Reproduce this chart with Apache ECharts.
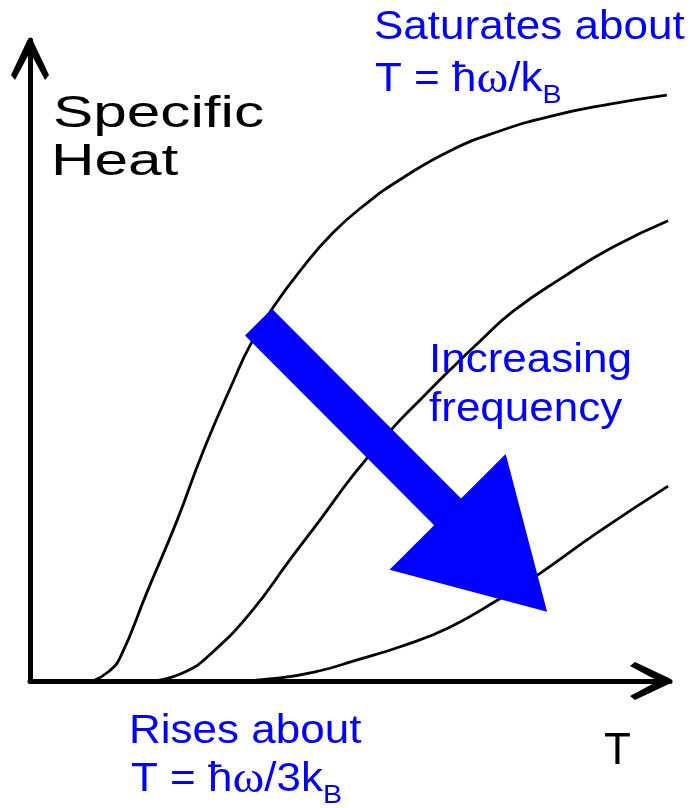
<!DOCTYPE html>
<html>
<head>
<meta charset="utf-8">
<script src="https://cdn.jsdelivr.net/npm/echarts@6/dist/echarts.min.js"></script>
<style>
html,body{margin:0;padding:0;background:#ffffff;}
#chart{width:694px;height:808px;}
</style>
</head>
<body>
<div id="chart"></div>
<script>
// ---- Data (arbitrary units: T from 0 to 10, specific heat from 0 to 10) ----
// Lowest-frequency oscillator (leftmost curve)
const lowFreqT = [0.98, 1.22, 1.41, 1.83, 2.30, 2.70, 3.17, 3.44, 3.80, 4.22, 4.73, 5.27, 5.78, 6.56, 7.34, 8.13, 9.06, 9.95];
const lowFreqC = [0.00, 0.14, 0.37, 1.39, 2.51, 3.57, 4.66, 5.24, 5.83, 6.40, 6.99, 7.46, 7.82, 8.27, 8.58, 8.81, 9.00, 9.14];
// Middle-frequency oscillator
const midFreqT = [1.95, 2.42, 2.81, 3.44, 4.06, 4.53, 5.05, 5.67, 6.09, 6.56, 7.03, 7.55, 8.33, 9.11, 9.97];
const midFreqC = [0.00, 0.14, 0.41, 1.06, 1.89, 2.51, 3.21, 3.95, 4.38, 4.85, 5.30, 5.77, 6.30, 6.77, 7.18];
// Highest-frequency oscillator (rightmost curve)
const highFreqT = [3.20, 3.91, 4.53, 5.05, 5.83, 6.56, 7.30, 7.97, 8.86, 9.97];
const highFreqC = [0.00, 0.05, 0.16, 0.31, 0.55, 0.84, 1.26, 1.68, 2.31, 3.04];
// "Increasing frequency" arrow: tail and tip, in the same units
const arrowFrom = [3.57, 5.60];
const arrowTo = [8.08, 1.08];
// Texts
const yTitleLines = ['Specific', 'Heat'];
const xTitle = 'T';
const topNoteLines = ['Saturates about', '{m|T = ħ}{w|ω}{m|/k}{s|B}'];
const arrowNoteLines = ['Increasing', 'frequency'];
const bottomNoteLines = ['Rises about', '{m|T = ħ}{w|ω}{m|/3k}{s|B}'];

function pairs(xs, ys) { return xs.map((x, i) => [x, ys[i]]); }

const BLUE = '#0000ff';
const SANS = 'Liberation Sans, Arial, Helvetica, sans-serif';
const chevron = 'path://M16.5 0 L21.5 0 L38 35 L34 40 L19 12 L4 40 L0 35 Z';

const axisCommon = {
  type: 'value', min: 0, max: 10,
  axisTick: {show: false}, axisLabel: {show: false}, splitLine: {show: false},
  axisLine: {
    show: true,
    symbol: ['none', chevron],
    symbolSize: [38, 40],
    symbolOffset: [0, -20],
    lineStyle: {color: '#000000', width: 5}
  }
};

const richBlue = {
  m: {fontSize: 40, fontFamily: SANS, fill: BLUE},
  w: {fontSize: 44, fontFamily: 'Liberation Serif, serif', fill: BLUE},
  s: {fontSize: 26, fontFamily: SANS, fill: BLUE, padding: [32, 0, 0, 0]}
};

function blueText(text, x, y) {
  return {
    type: 'text', x: x, y: y, scaleX: 1.1, z: 100,
    style: {text: text, fontSize: 40, fontFamily: SANS, fill: BLUE,
            align: 'left', verticalAlign: 'middle', rich: richBlue}
  };
}
function blackText(text, x, y, sx) {
  return {
    type: 'text', x: x, y: y, scaleX: sx, z: 100,
    style: {text: text, fontSize: 44, fontFamily: SANS, fill: '#000000',
            align: 'left', verticalAlign: 'middle'}
  };
}

const lineStyle = {color: '#000000', width: 2.8};

const option = {
  animation: false,
  backgroundColor: '#ffffff',
  grid: {left: 30, right: 24, top: 40, bottom: 127, containLabel: false},
  xAxis: axisCommon,
  yAxis: axisCommon,
  series: [
    {type: 'line', data: pairs(lowFreqT, lowFreqC), showSymbol: false, smooth: 0.5, lineStyle: lineStyle, z: 2},
    {type: 'line', data: pairs(midFreqT, midFreqC), showSymbol: false, smooth: 0.5, lineStyle: lineStyle, z: 2},
    {type: 'line', data: pairs(highFreqT, highFreqC), showSymbol: false, smooth: 0.5, lineStyle: lineStyle, z: 2},
    {
      type: 'custom', z: 5, clip: false,
      data: [[arrowFrom[0], arrowFrom[1], arrowTo[0], arrowTo[1]]],
      renderItem: function (params, api) {
        const p1 = api.coord([api.value(0), api.value(1)]);
        const p2 = api.coord([api.value(2), api.value(3)]);
        const dx = p2[0] - p1[0], dy = p2[1] - p1[1];
        const len = Math.sqrt(dx * dx + dy * dy);
        const ux = dx / len, uy = dy / len;
        const nx = -uy, ny = ux;
        const shaftHalf = 19, headHalf = 82, headLen = 141;
        const bx = p2[0] - ux * headLen, by = p2[1] - uy * headLen;
        const pts = [
          [p1[0] + nx * shaftHalf, p1[1] + ny * shaftHalf],
          [bx + nx * shaftHalf, by + ny * shaftHalf],
          [bx + nx * headHalf, by + ny * headHalf],
          [p2[0], p2[1]],
          [bx - nx * headHalf, by - ny * headHalf],
          [bx - nx * shaftHalf, by - ny * shaftHalf],
          [p1[0] - nx * shaftHalf, p1[1] - ny * shaftHalf]
        ];
        return {type: 'polygon', shape: {points: pts}, style: {fill: BLUE}};
      }
    }
  ],
  graphic: [
    blackText(yTitleLines[0], 53, 115, 1.37),
    blackText(yTitleLines[1], 51, 163, 1.37),
    blackText(xTitle, 604, 752, 1),
    blueText(topNoteLines[0], 374, 28),
    blueText(topNoteLines[1], 375, 80),
    blueText(arrowNoteLines[0], 429, 361),
    blueText(arrowNoteLines[1], 429, 410),
    blueText(bottomNoteLines[0], 129, 732),
    blueText(bottomNoteLines[1], 131, 780)
  ]
};

const chart = echarts.init(document.getElementById('chart'), null, {renderer: 'canvas'});
chart.setOption(option);
</script>
</body>
</html>
